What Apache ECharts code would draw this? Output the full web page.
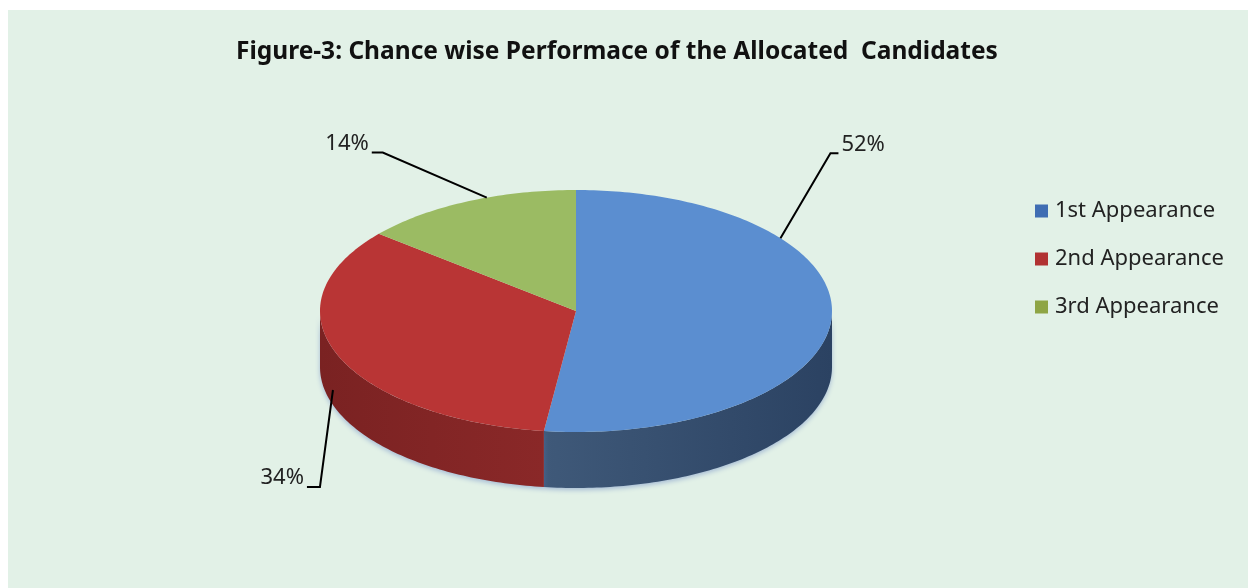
<!DOCTYPE html>
<html>
<head>
<meta charset="utf-8">
<script src="https://cdn.jsdelivr.net/npm/echarts@6/dist/echarts.min.js"></script>
<style>
html,body{margin:0;padding:0;background:#fff}
#chart{width:1248px;height:588px}
</style>
</head>
<body>
<div id="chart"></div>
<script>
// data
var categories = ['1st Appearance', '2nd Appearance', '3rd Appearance'];
var values = [52, 34, 14];

// styles
var topColors = ['#5b8ed0', '#b93535', '#9bbb63'];
var sideColors = [['#3f5979', '#2b4262'], ['#7a2222', '#8a2828'], ['#6f8a3e', '#7a9645']];
var legendColors = ['#3f6db3', '#b13232', '#8ea545'];
var cx = 576, cy = 311, rx = 256, ry = 121, depth = 56;
// leader line: angle on rim (deg, clockwise from top), drop on the wall, elbow offset, arm
var leaders = [
    {a: 53, drop: 0, dx: 50, dy: -85, arm: 8, ty: -8},
    {a: 251.7, drop: 41, dx: -13, dy: 97, arm: -13, ty: -9},
    {a: 339.6, drop: 0, dx: -104, dy: -45, arm: -11, ty: -9}
];

function pt(deg, dy) {
    var r = deg * Math.PI / 180;
    return [cx + rx * Math.sin(r), cy - ry * Math.cos(r) + (dy || 0)];
}

function arc(a0, a1, dy) {
    var pts = [];
    var n = Math.max(2, Math.ceil(Math.abs(a1 - a0)));
    for (var k = 0; k <= n; k++) {
        pts.push(pt(a0 + (a1 - a0) * k / n, dy));
    }
    return pts;
}

function renderSlice(i) {
    return function (params, api) {
        var total = values.reduce(function (s, v) { return s + v }, 0);
        var before = 0;
        for (var j = 0; j < i; j++) before += values[j];
        var v = api.value(0);
        var a0 = before / total * 360;
        var a1 = (before + v) / total * 360;
        var children = [];

        // front wall
        var s0 = Math.max(a0, 90), s1 = Math.min(a1, 270);
        if (s1 > s0) {
            var wall = arc(s0, s1, 0).concat(arc(s1, s0, depth));
            children.push({
                type: 'polygon',
                shape: {points: wall},
                style: {
                    fill: new echarts.graphic.LinearGradient(0, 0, 1, 0, [
                        {offset: 0, color: sideColors[i][0]},
                        {offset: 1, color: sideColors[i][1]}
                    ]),
                    shadowBlur: 5,
                    shadowOffsetY: 2,
                    shadowColor: 'rgba(90,120,190,0.45)'
                }
            });
        }

        // top face
        children.push({
            type: 'polygon',
            shape: {points: [[cx, cy]].concat(arc(a0, a1, 0))},
            style: {fill: topColors[i]}
        });

        // leader line + label
        var L = leaders[i];
        var p0 = pt(L.a, L.drop);
        var p1 = [p0[0] + L.dx, p0[1] + L.dy];
        var p2 = [p1[0] + L.arm, p1[1]];
        children.push({
            type: 'polyline',
            shape: {points: [p0, p1, p2]},
            style: {stroke: '#000', lineWidth: 2, fill: null}
        });
        children.push({
            type: 'text',
            style: {
                text: Math.round(v / total * 100) + '%',
                x: p2[0] + (L.arm > 0 ? 3 : -3),
                y: p2[1] + L.ty,
                align: L.arm > 0 ? 'left' : 'right',
                verticalAlign: 'middle',
                fill: '#222',
                fontSize: 22,
                fontFamily: 'Noto Sans'
            }
        });

        return {type: 'group', children: children};
    };
}

var chart = echarts.init(document.getElementById('chart'));
var series = categories.map(function (name, i) {
    return {
        type: 'custom',
        name: name,
        coordinateSystem: 'none',
        silent: true,
        itemStyle: {color: legendColors[i]},
        data: [[values[i]]],
        renderItem: renderSlice(i)
    };
});

chart.setOption({
    animation: false,
    backgroundColor: '#fff',
    graphic: [{
        type: 'rect',
        z: -10,
        shape: {x: 8, y: 10, width: 1240, height: 578},
        style: {fill: '#e2f1e7'}
    }],
    title: {
        text: 'Figure-3: Chance wise Performace of the Allocated  Candidates',
        left: 231,
        top: 35,
        textStyle: {
            fontFamily: 'Noto Sans',
            fontWeight: 'bold',
            fontSize: 24.5,
            color: '#111'
        }
    },
    legend: {
        orient: 'vertical',
        left: 1030,
        top: 194,
        icon: 'rect',
        itemWidth: 13,
        itemHeight: 13,
        itemGap: 24,
        selectedMode: false,
        textStyle: {
            fontFamily: 'Noto Sans',
            fontSize: 22,
            lineHeight: 24,
            color: '#222',
            padding: [0, 0, 0, 2]
        },
        data: categories
    },
    series: series
});
</script>
</body>
</html>
